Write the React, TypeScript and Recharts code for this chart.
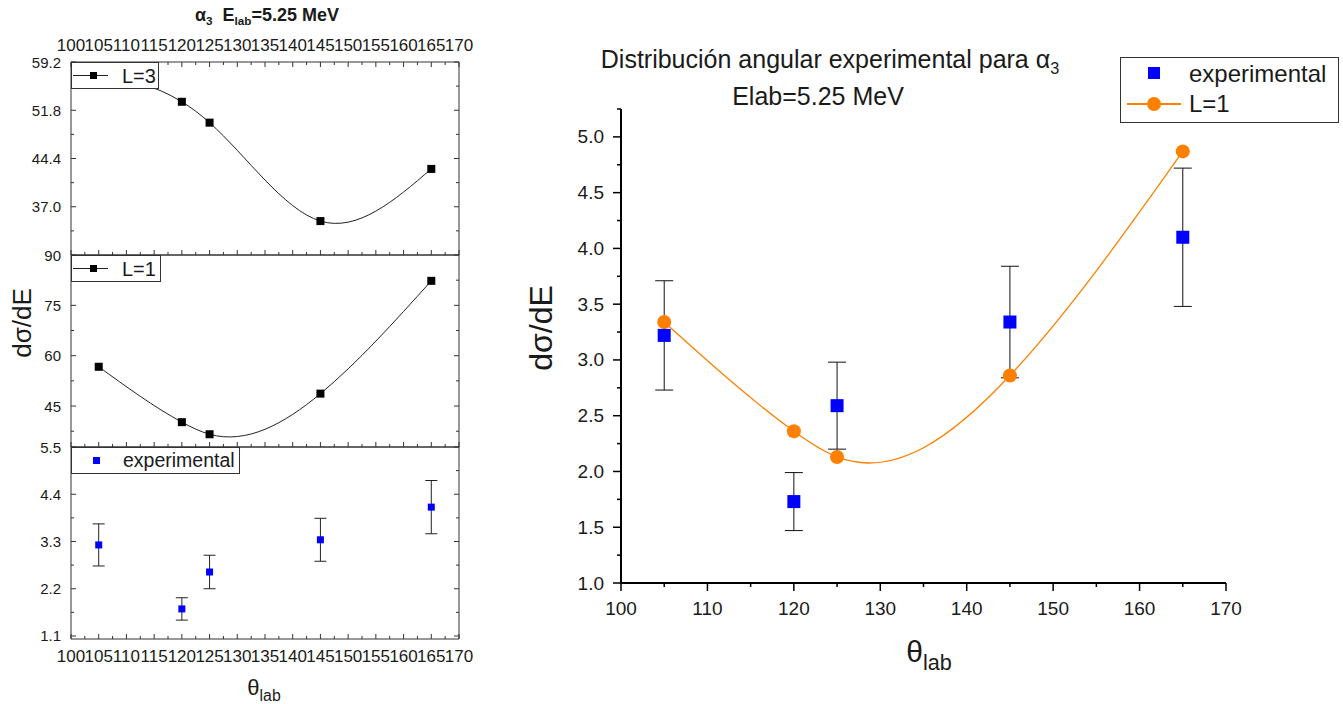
import React from "react";
import { ComposedChart, Line, Scatter, XAxis, YAxis, ErrorBar, ReferenceArea } from "recharts";

const FONT = '"Liberation Sans", Arial, sans-serif';
const INK = "#1a1a1a";
const BLUE = "#0000ff";
const ORANGE = "#ff8000";

// scattering angles (deg)
const angles = [105, 120, 125, 145, 165];
// measured cross sections and their uncertainties
const expValues = [3.22, 1.73, 2.59, 3.34, 4.1];
const expErrors = [0.49, 0.26, 0.39, 0.5, 0.62];
// L=1 calculation normalised to the data
const fitL1 = [3.34, 2.36, 2.13, 2.86, 4.87];
// raw calculations shown in the stacked panels
const rawL3 = [57.5, 53.1, 49.9, 34.8, 42.8];
const rawL1 = [56.7, 40.2, 36.6, 48.7, 82.3];

// axis ticks
const stackXMajor = [100, 105, 110, 115, 120, 125, 130, 135, 140, 145, 150, 155, 160, 165, 170];
const stackXMinor = [102.5, 107.5, 112.5, 117.5, 122.5, 127.5, 132.5, 137.5, 142.5, 147.5, 152.5, 157.5, 162.5, 167.5];
const l3YMajor = [37, 44.4, 51.8, 59.2];
const l3YMinor = [33.3, 40.7, 48.1, 55.5];
const l1YMajor = [45, 60, 75, 90];
const l1YMinor = [37.5, 52.5, 67.5, 82.5];
const expYMajor = [1.1, 2.2, 3.3, 4.4, 5.5];
const expYMinor = [1.65, 2.75, 3.85, 4.95];
const mainXMajor = [100, 110, 120, 130, 140, 150, 160, 170];
const mainXMinor = [105, 115, 125, 135, 145, 155, 165];
const mainYMajor = [1, 1.5, 2, 2.5, 3, 3.5, 4, 4.5, 5];
const mainYMinor = [1.25, 1.75, 2.25, 2.75, 3.25, 3.75, 4.25, 4.75, 5.25];

// Natural cubic spline y(x) through the points, drawn as bezier segments.
// Used as a d3 curve factory for Line's `type`.
function splineX(context: any) {
  let xs: number[] = [];
  let ys: number[] = [];
  return {
    areaStart() {},
    areaEnd() {},
    lineStart() {
      xs = [];
      ys = [];
    },
    point(x: number, y: number) {
      xs.push(+x);
      ys.push(+y);
    },
    lineEnd() {
      const n = xs.length;
      if (!n) return;
      context.moveTo(xs[0], ys[0]);
      if (n === 1) return;
      if (n === 2) {
        context.lineTo(xs[1], ys[1]);
        return;
      }
      const h: number[] = [];
      for (let i = 0; i < n - 1; i++) h[i] = xs[i + 1] - xs[i];
      const M = new Array(n).fill(0);
      const cp: number[] = [];
      const dp: number[] = [];
      for (let i = 1; i < n - 1; i++) {
        const a = h[i - 1];
        const b = 2 * (h[i - 1] + h[i]);
        const c = h[i];
        const d = 6 * ((ys[i + 1] - ys[i]) / h[i] - (ys[i] - ys[i - 1]) / h[i - 1]);
        const prevC = i > 1 ? cp[i - 1] : 0;
        const prevD = i > 1 ? dp[i - 1] : 0;
        const m = b - a * prevC;
        cp[i] = c / m;
        dp[i] = (d - a * prevD) / m;
      }
      for (let i = n - 2; i >= 1; i--) M[i] = dp[i] - cp[i] * (i < n - 2 ? M[i + 1] : 0);
      for (let i = 0; i < n - 1; i++) {
        const s = (ys[i + 1] - ys[i]) / h[i];
        const d0 = s - (h[i] * (2 * M[i] + M[i + 1])) / 6;
        const d1 = s + (h[i] * (M[i] + 2 * M[i + 1])) / 6;
        context.bezierCurveTo(
          xs[i] + h[i] / 3,
          ys[i] + (h[i] / 3) * d0,
          xs[i + 1] - h[i] / 3,
          ys[i + 1] - (h[i] / 3) * d1,
          xs[i + 1],
          ys[i + 1]
        );
      }
    },
  };
}

type XTickCfg = {
  major: number[];
  len: [number, number];
  inward: boolean;
  plotH: number;
  mirrorTop?: boolean;
  labelsBottom?: boolean;
  labelsTop?: boolean;
  gap: number;
  fontSize: number;
  stroke: string;
  strokeWidth: number;
  fmt: (v: number) => string;
};

function xTick(cfg: XTickCfg) {
  return (props: any) => {
    const { x, y, payload } = props;
    const v = payload.value;
    const isMajor = cfg.major.includes(v);
    const len = isMajor ? cfg.len[0] : cfg.len[1];
    const dir = cfg.inward ? -1 : 1;
    const top = y - cfg.plotH;
    const textProps = {
      textAnchor: "middle" as const,
      dominantBaseline: "central" as const,
      fontSize: cfg.fontSize,
      fontFamily: FONT,
      fill: INK,
    };
    return (
      <g>
        <line x1={x} x2={x} y1={y} y2={y + dir * len} stroke={cfg.stroke} strokeWidth={cfg.strokeWidth} />
        {cfg.mirrorTop && (
          <line x1={x} x2={x} y1={top} y2={top + len} stroke={cfg.stroke} strokeWidth={cfg.strokeWidth} />
        )}
        {isMajor && cfg.labelsBottom && (
          <text x={x} y={y + cfg.gap} {...textProps}>
            {cfg.fmt(v)}
          </text>
        )}
        {isMajor && cfg.labelsTop && (
          <text x={x} y={top - cfg.gap} {...textProps}>
            {cfg.fmt(v)}
          </text>
        )}
      </g>
    );
  };
}

type YTickCfg = {
  major: number[];
  len: [number, number];
  inward: boolean;
  plotW?: number;
  gap: number;
  fontSize: number;
  stroke: string;
  strokeWidth: number;
  fmt: (v: number) => string;
};

function yTick(cfg: YTickCfg) {
  return (props: any) => {
    const { x, y, payload } = props;
    const v = payload.value;
    const isMajor = cfg.major.includes(v);
    const len = isMajor ? cfg.len[0] : cfg.len[1];
    const dir = cfg.inward ? 1 : -1;
    return (
      <g>
        <line x1={x} x2={x + dir * len} y1={y} y2={y} stroke={cfg.stroke} strokeWidth={cfg.strokeWidth} />
        {cfg.plotW !== undefined && (
          <line
            x1={x + cfg.plotW}
            x2={x + cfg.plotW - len}
            y1={y}
            y2={y}
            stroke={cfg.stroke}
            strokeWidth={cfg.strokeWidth}
          />
        )}
        {isMajor && (
          <text
            x={x - cfg.gap}
            y={y}
            textAnchor="end"
            dominantBaseline="central"
            fontSize={cfg.fontSize}
            fontFamily={FONT}
            fill={INK}
          >
            {cfg.fmt(v)}
          </text>
        )}
      </g>
    );
  };
}

const squareDot = (size: number, fill: string) => (p: any) =>
  (
    <rect
      key={`sq-${p.index}`}
      x={p.cx - size / 2}
      y={p.cy - size / 2}
      width={size}
      height={size}
      fill={fill}
    />
  );

const Sub = ({ children, size = "0.65em" }: { children: React.ReactNode; size?: string }) => (
  <span style={{ fontSize: size, position: "relative", top: "0.35em" }}>{children}</span>
);

const PANEL_W = 388;
const fmt1 = (v: number) => v.toFixed(1);
const fmt0 = (v: number) => String(v);

type PanelProps = {
  rows: any[];
  top: number;
  height: number;
  marginTop: number;
  xHeight: number;
  plotH: number;
  yDomain: [number, number];
  yMajor: number[];
  yMinor: number[];
  yFmt: (v: number) => string;
  labelsTop?: boolean;
  labelsBottom?: boolean;
  children: React.ReactNode;
};

function StackPanel(p: PanelProps) {
  return (
    <div style={{ position: "absolute", left: 0, top: p.top }}>
      <ComposedChart
        width={520}
        height={p.height}
        data={p.rows}
        margin={{ top: p.marginTop, right: 61, bottom: 0, left: 11 }}
      >
        <XAxis
          type="number"
          dataKey="angle"
          domain={[100, 170]}
          allowDataOverflow
          ticks={[...stackXMajor, ...stackXMinor]}
          interval={0}
          tickSize={0}
          tickMargin={0}
          axisLine={false}
          height={p.xHeight}
          tick={xTick({
            major: stackXMajor,
            len: [5, 3],
            inward: true,
            plotH: p.plotH,
            mirrorTop: p.labelsTop,
            labelsBottom: p.labelsBottom,
            labelsTop: p.labelsTop,
            gap: 17,
            fontSize: 17,
            stroke: "#333",
            strokeWidth: 1,
            fmt: fmt0,
          })}
        />
        <YAxis
          type="number"
          domain={p.yDomain}
          allowDataOverflow
          ticks={[...p.yMajor, ...p.yMinor]}
          interval={0}
          width={60}
          tickSize={0}
          tickMargin={0}
          axisLine={false}
          tick={yTick({
            major: p.yMajor,
            len: [5, 3],
            inward: true,
            plotW: PANEL_W,
            gap: 10,
            fontSize: 15,
            stroke: "#333",
            strokeWidth: 1,
            fmt: p.yFmt,
          })}
        />
        <ReferenceArea
          x1={100}
          x2={170}
          y1={p.yDomain[0]}
          y2={p.yDomain[1]}
          fill="none"
          fillOpacity={0}
          stroke="#333"
          strokeWidth={1}
          ifOverflow="visible"
        />
        {p.children}
      </ComposedChart>
    </div>
  );
}

const legendBox: React.CSSProperties = {
  position: "absolute",
  background: "#fff",
  border: "1px solid #333",
  boxSizing: "border-box",
};

export default function App() {
  const rows = angles.map((angle, i) => ({
    angle,
    exp: expValues[i],
    err: expErrors[i],
    fit: fitL1[i],
    l3: rawL3[i],
    l1: rawL1[i],
  }));

  return (
    <div
      style={{
        position: "absolute",
        left: 0,
        top: 0,
        width: 1343,
        height: 704,
        background: "#fff",
        fontFamily: FONT,
        color: INK,
        overflow: "hidden",
      }}
    >
      {/* stacked panels */}
      <StackPanel
        rows={rows}
        top={0}
        height={275}
        marginTop={62}
        xHeight={20}
        plotH={193}
        yDomain={[29.6, 59.2]}
        yMajor={l3YMajor}
        yMinor={l3YMinor}
        yFmt={fmt1}
        labelsTop
      >
        <Line
          type={splineX as any}
          dataKey="l3"
          stroke="#222"
          strokeWidth={1}
          dot={squareDot(8, "#000")}
          activeDot={false}
          isAnimationActive={false}
        />
      </StackPanel>
      <StackPanel
        rows={rows}
        top={235}
        height={232}
        marginTop={20}
        xHeight={20}
        plotH={192}
        yDomain={[32.8, 90]}
        yMajor={l1YMajor}
        yMinor={l1YMinor}
        yFmt={fmt0}
      >
        <Line
          type={splineX as any}
          dataKey="l1"
          stroke="#222"
          strokeWidth={1}
          dot={squareDot(8, "#000")}
          activeDot={false}
          isAnimationActive={false}
        />
      </StackPanel>
      <StackPanel
        rows={rows}
        top={427}
        height={250}
        marginTop={20}
        xHeight={38}
        plotH={192}
        yDomain={[1.03, 5.5]}
        yMajor={expYMajor}
        yMinor={expYMinor}
        yFmt={fmt1}
        labelsBottom
      >
        <Scatter dataKey="exp" fill={BLUE} shape={squareDot(7, BLUE)} isAnimationActive={false}>
          <ErrorBar dataKey="err" direction="y" width={6} stroke="#222" strokeWidth={1} />
        </Scatter>
      </StackPanel>

      {/* stacked panel legends */}
      <div style={{ ...legendBox, left: 71, top: 62, width: 88, height: 27 }}>
        <svg width={50} height={25} style={{ position: "absolute", left: 0, top: 0 }}>
          <line x1={1} x2={36} y1={12.5} y2={12.5} stroke="#222" strokeWidth={1} />
          <rect x={18} y={9} width={7} height={7} fill="#000" />
        </svg>
        <span style={{ position: "absolute", left: 50, top: 2, fontSize: 20, lineHeight: "22px" }}>L=3</span>
      </div>
      <div style={{ ...legendBox, left: 71, top: 255, width: 90, height: 27 }}>
        <svg width={50} height={25} style={{ position: "absolute", left: 0, top: 0 }}>
          <line x1={1} x2={36} y1={12.5} y2={12.5} stroke="#222" strokeWidth={1} />
          <rect x={18} y={9} width={7} height={7} fill="#000" />
        </svg>
        <span style={{ position: "absolute", left: 50, top: 2, fontSize: 20, lineHeight: "22px" }}>L=1</span>
      </div>
      <div style={{ ...legendBox, left: 71, top: 447, width: 169, height: 27 }}>
        <svg width={50} height={25} style={{ position: "absolute", left: 0, top: 0 }}>
          <rect x={21} y={9} width={7} height={7} fill={BLUE} />
        </svg>
        <span style={{ position: "absolute", left: 51, top: 1, fontSize: 19.5, lineHeight: "22px" }}>
          experimental
        </span>
      </div>

      {/* stacked panel titles */}
      <div
        style={{
          position: "absolute",
          left: 267,
          top: 15,
          transform: "translate(-50%, -50%)",
          fontSize: 18,
          fontWeight: "bold",
          whiteSpace: "nowrap",
          lineHeight: 1,
        }}
      >
        α<Sub>3</Sub>&nbsp;&nbsp;E<Sub>lab</Sub>=5.25 MeV
      </div>
      <div
        style={{
          position: "absolute",
          left: 22,
          top: 323,
          transform: "translate(-50%, -50%) rotate(-90deg)",
          fontSize: 26,
          whiteSpace: "nowrap",
          lineHeight: 1,
        }}
      >
        dσ/dE
      </div>
      <div
        style={{
          position: "absolute",
          left: 264,
          top: 688,
          transform: "translate(-50%, -50%)",
          fontSize: 22,
          whiteSpace: "nowrap",
          lineHeight: 1,
        }}
      >
        θ<Sub size="0.72em">lab</Sub>
      </div>

      {/* main chart */}
      <div style={{ position: "absolute", left: 520, top: 0 }}>
        <ComposedChart width={740} height={704} data={rows} margin={{ top: 109, right: 34, bottom: 81, left: 61 }}>
          <XAxis
            type="number"
            dataKey="angle"
            domain={[100, 170]}
            allowDataOverflow
            ticks={[...mainXMajor, ...mainXMinor]}
            interval={0}
            tickSize={0}
            tickMargin={0}
            height={40}
            axisLine={{ stroke: "#000", strokeWidth: 2 }}
            tick={xTick({
              major: mainXMajor,
              len: [8, 4],
              inward: false,
              plotH: 474,
              labelsBottom: true,
              gap: 25,
              fontSize: 19,
              stroke: "#000",
              strokeWidth: 1.5,
              fmt: fmt0,
            })}
          />
          <YAxis
            type="number"
            domain={[1, 5.25]}
            allowDataOverflow
            ticks={[...mainYMajor, ...mainYMinor]}
            interval={0}
            width={40}
            tickSize={0}
            tickMargin={0}
            axisLine={{ stroke: "#000", strokeWidth: 2 }}
            tick={yTick({
              major: mainYMajor,
              len: [8, 4],
              inward: false,
              gap: 17,
              fontSize: 19,
              stroke: "#000",
              strokeWidth: 1.5,
              fmt: fmt1,
            })}
          />
          <Line
            type={splineX as any}
            dataKey="fit"
            stroke={ORANGE}
            strokeWidth={1.3}
            dot={(p: any) => <circle key={`c-${p.index}`} cx={p.cx} cy={p.cy} r={7} fill={ORANGE} />}
            activeDot={false}
            isAnimationActive={false}
          />
          <Scatter dataKey="exp" fill={BLUE} shape={squareDot(13, BLUE)} isAnimationActive={false}>
            <ErrorBar dataKey="err" direction="y" width={9} stroke="#111" strokeWidth={1} />
          </Scatter>
        </ComposedChart>
      </div>

      {/* main chart titles and axis labels */}
      <div
        style={{
          position: "absolute",
          left: 830,
          top: 59,
          transform: "translate(-50%, -50%)",
          fontSize: 25,
          whiteSpace: "nowrap",
          lineHeight: 1,
        }}
      >
        Distribución angular experimental para α<Sub>3</Sub>
      </div>
      <div
        style={{
          position: "absolute",
          left: 818,
          top: 96,
          transform: "translate(-50%, -50%)",
          fontSize: 25,
          whiteSpace: "nowrap",
          lineHeight: 1,
        }}
      >
        Elab=5.25 MeV
      </div>
      <div
        style={{
          position: "absolute",
          left: 541,
          top: 328,
          transform: "translate(-50%, -50%) rotate(-90deg)",
          fontSize: 32,
          whiteSpace: "nowrap",
          lineHeight: 1,
        }}
      >
        dσ/dE
      </div>
      <div
        style={{
          position: "absolute",
          left: 929,
          top: 652,
          transform: "translate(-50%, -50%)",
          fontSize: 30,
          whiteSpace: "nowrap",
          lineHeight: 1,
        }}
      >
        θ<Sub size="0.72em">lab</Sub>
      </div>

      {/* main legend */}
      <div style={{ ...legendBox, left: 1120, top: 57, width: 219, height: 66, border: "1.5px solid #333" }}>
        <svg width={66} height={63} style={{ position: "absolute", left: 0, top: 0 }}>
          <rect x={27} y={9} width={12} height={12} fill={BLUE} />
          <line x1={6} x2={60} y1={46} y2={46} stroke={ORANGE} strokeWidth={2} />
          <circle cx={33} cy={46} r={7} fill={ORANGE} />
        </svg>
        <span style={{ position: "absolute", left: 68, top: 3, fontSize: 24, lineHeight: "26px" }}>experimental</span>
        <span style={{ position: "absolute", left: 68, top: 33, fontSize: 24, lineHeight: "26px" }}>L=1</span>
      </div>
    </div>
  );
}
